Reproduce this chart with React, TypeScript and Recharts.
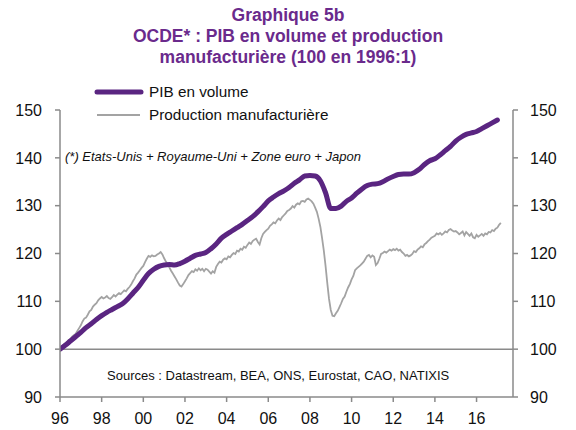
import React from "react";
import { ComposedChart, Line, XAxis, YAxis, ReferenceLine } from "recharts";

// PIB en volume, quarterly, from 1996Q1
const pibStartYear = 1996;
const pibQuarterly = [
  100.0, 100.8, 101.7, 102.6,
  103.5, 104.5, 105.3, 106.2,
  107.0, 107.7, 108.3, 108.9,
  109.5, 110.5, 111.7, 112.9,
  114.4, 115.8, 116.7, 117.3,
  117.6, 117.7, 117.6, 117.9,
  118.4, 119.0, 119.6, 119.9,
  120.2, 121.0, 122.0, 123.2,
  124.0, 124.7, 125.4, 126.1,
  126.9, 127.7, 128.7, 129.8,
  131.0, 131.8, 132.5, 133.1,
  133.8, 134.7, 135.4, 136.2,
  136.3, 136.2, 135.2, 132.7,
  129.4, 129.4, 129.9, 130.9,
  131.6, 132.6, 133.5, 134.2,
  134.5, 134.6, 135.0, 135.6,
  136.1, 136.5, 136.6, 136.6,
  136.9, 137.6, 138.6, 139.4,
  139.8, 140.6, 141.5, 142.4,
  143.5, 144.3, 144.9, 145.2,
  145.5, 146.1, 146.7, 147.3,
  147.9,
];

// Production manufacturière, monthly, from Jan 1996
const prodMonthly = [
  100.0, 100.6, 100.9, 101.2, 101.5, 101.9, 102.1, 102.6, 102.9, 103.2, 103.8, 104.4,
  105.0, 105.8, 106.4, 106.6, 107.2, 107.9, 108.2, 108.9, 109.3, 109.6, 110.2, 110.6,
  110.9, 110.6, 110.8, 111.1, 110.7, 110.5, 110.9, 111.3, 111.0, 111.4, 111.7, 111.5,
  111.9, 112.3, 112.1, 112.6, 113.0, 113.5, 114.2, 114.8, 115.6, 116.0, 116.5, 117.0,
  117.4, 118.2, 118.9, 119.5, 119.3, 119.6, 119.4, 119.5, 119.8, 120.0, 120.3, 119.8,
  119.0, 118.3, 117.8, 117.1, 116.4, 115.8, 115.2, 114.6, 113.9, 113.3, 113.1, 113.6,
  114.2, 114.8, 115.5, 115.9, 116.3, 116.1, 116.7, 116.4, 116.9, 116.5, 116.8, 116.3,
  116.8, 116.6, 116.2, 115.8, 116.3, 116.0, 117.2, 117.8, 118.3, 118.1, 118.7, 119.0,
  118.8, 119.4, 119.2, 119.7, 120.1, 119.9, 120.6, 120.4, 121.0, 120.8, 121.4, 121.2,
  121.8, 122.3, 122.0, 122.6, 122.9, 123.1, 122.4, 121.9, 123.2, 124.1, 124.5, 124.9,
  125.2, 125.8, 126.1, 126.5, 126.3, 126.9, 127.3, 127.0, 127.6, 128.0, 128.4, 128.9,
  129.1, 129.4, 129.9, 129.6, 130.2, 130.5, 130.3, 130.9, 131.0, 130.8, 131.3, 131.5,
  131.2, 130.9, 130.4, 129.6, 128.7, 127.3, 125.6, 123.2, 120.6, 117.4, 113.8, 110.5,
  108.2, 107.0, 106.9, 107.5, 108.0, 108.8, 109.6, 110.5, 111.0, 112.0, 112.9, 113.6,
  114.6, 115.3, 116.5, 116.9, 117.2, 117.5, 117.9, 118.3, 118.9, 119.5, 119.7, 119.2,
  119.6, 119.3, 117.6, 118.0, 118.9, 119.9, 120.1, 120.4, 120.2, 120.5, 120.8, 120.6,
  120.9, 120.7, 121.0, 120.6, 120.8, 120.3, 120.0, 119.5, 119.7, 119.4, 119.6, 119.9,
  120.5, 120.3, 120.8, 121.1, 121.5, 121.3, 121.9, 122.2, 122.6, 122.9, 123.3, 123.5,
  123.7, 124.2, 124.0, 124.3, 123.9, 124.2, 124.6, 124.4, 124.9, 125.1, 124.8, 124.6,
  124.7, 124.4, 124.0, 124.3, 124.6, 123.8, 124.5, 124.1, 123.7, 124.2, 123.4, 123.2,
  123.9, 123.5, 123.8, 124.1, 123.7, 124.2, 124.0, 124.5, 124.4, 124.9, 124.7, 125.2,
  125.4, 126.0, 126.4,
];

const xTicks = [1996, 1998, 2000, 2002, 2004, 2006, 2008, 2010, 2012, 2014, 2016];
const yTicks = [90, 100, 110, 120, 130, 140, 150];

const titleLines = [
  "Graphique 5b",
  "OCDE* : PIB en volume et production",
  "manufacturière (100 en 1996:1)",
];
const seriesNames = ["PIB en volume", "Production manufacturière"];
const noteText = "(*) Etats-Unis + Royaume-Uni + Zone euro + Japon";
const sourceText = "Sources : Datastream, BEA, ONS, Eurostat, CAO, NATIXIS";

const PURPLE = "#5a2581";
const GRAY = "#a3a3a3";
const AXIS = "#8a8a8a";
const FONT = "'Liberation Sans', Arial, sans-serif";

const pibData = pibQuarterly.map((v, i) => ({ t: pibStartYear + i / 4, v }));
const prodData = prodMonthly.map((v, i) => ({ t: pibStartYear + i / 12, v }));

const fmtYear = (v: number) => String(Math.round(v) % 100).padStart(2, "0");

export default function App() {
  const tickStyle = { fontSize: 16, fill: "#111", fontFamily: FONT };
  return (
    <div style={{ position: "absolute", left: 0, top: 0, width: 576, height: 430, background: "#fff", fontFamily: FONT }}>
      <ComposedChart width={576} height={430} margin={{ top: 110, right: 0, bottom: 0, left: 0 }}>
        <XAxis
          type="number"
          dataKey="t"
          domain={[1996, 2017.75]}
          ticks={xTicks}
          tickFormatter={fmtYear}
          allowDataOverflow
          height={33}
          tickSize={5}
          tickMargin={11}
          stroke={AXIS}
          strokeWidth={1.5}
          tick={tickStyle}
          interval={0}
        />
        <YAxis
          yAxisId="left"
          orientation="left"
          domain={[90, 150]}
          ticks={yTicks}
          width={60}
          tickSize={5}
          tickMargin={13}
          stroke={AXIS}
          strokeWidth={1.5}
          tick={tickStyle}
          interval={0}
          allowDataOverflow
        />
        <YAxis
          yAxisId="right"
          orientation="right"
          domain={[90, 150]}
          ticks={yTicks}
          width={63}
          tickSize={5}
          tickMargin={12}
          stroke={AXIS}
          strokeWidth={1.5}
          tick={tickStyle}
          interval={0}
          allowDataOverflow
        />
        <ReferenceLine yAxisId="left" y={100} stroke={AXIS} strokeWidth={1.5} />
        <Line
          yAxisId="left"
          data={prodData}
          dataKey="v"
          type="linear"
          stroke={GRAY}
          strokeWidth={1.8}
          dot={false}
          isAnimationActive={false}
        />
        <Line
          yAxisId="left"
          data={pibData}
          dataKey="v"
          type="monotone"
          stroke={PURPLE}
          strokeWidth={5}
          strokeLinecap="round"
          dot={false}
          isAnimationActive={false}
        />
      </ComposedChart>

      <div
        style={{
          position: "absolute",
          left: 0,
          top: 5,
          width: 576,
          textAlign: "center",
          color: "#6a2a8c",
          fontWeight: "bold",
          fontSize: 17.5,
          lineHeight: "21px",
        }}
      >
        {titleLines.map((l, i) => (
          <div key={i}>{l}</div>
        ))}
      </div>

      <svg style={{ position: "absolute", left: 0, top: 0 }} width={576} height={430} pointerEvents="none">
        <line x1={97} y1={92} x2={141} y2={92} stroke={PURPLE} strokeWidth={5} strokeLinecap="round" />
        <line x1={97} y1={115} x2={140} y2={115} stroke={GRAY} strokeWidth={2} />
      </svg>
      <div style={{ position: "absolute", left: 149, top: 83, fontSize: 15.3, color: "#111", lineHeight: "18px" }}>
        {seriesNames[0]}
      </div>
      <div style={{ position: "absolute", left: 149, top: 106, fontSize: 15.3, color: "#111", lineHeight: "18px" }}>
        {seriesNames[1]}
      </div>
      <div style={{ position: "absolute", left: 65, top: 149, fontSize: 13, fontStyle: "italic", color: "#111", lineHeight: "16px" }}>
        {noteText}
      </div>
      <div style={{ position: "absolute", left: 107, top: 368, fontSize: 13, color: "#111", lineHeight: "16px" }}>
        {sourceText}
      </div>
    </div>
  );
}
